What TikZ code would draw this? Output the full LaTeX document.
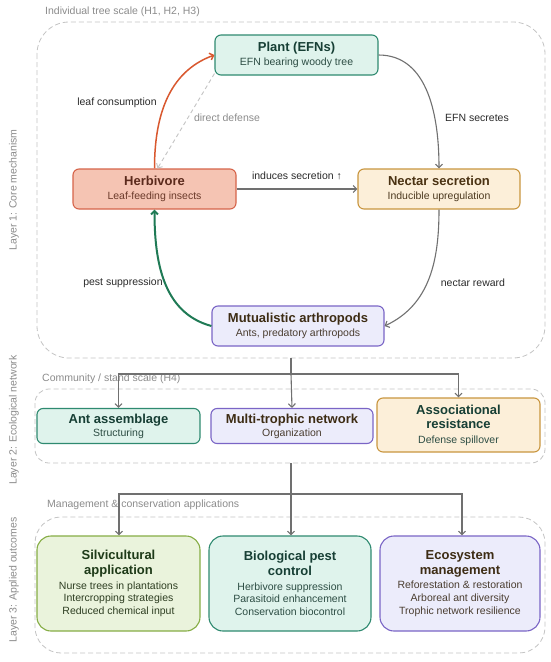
\documentclass[tikz,border=0pt]{standalone}
\usepackage{fontspec}
\setmainfont{Liberation Sans}
\usetikzlibrary{arrows.meta}
\definecolor{tealF}{HTML}{DFF3EC}
\definecolor{tealD}{HTML}{2F8A70}
\definecolor{tealT}{HTML}{173F35}
\definecolor{tealS}{HTML}{2D4D44}
\definecolor{herbF}{HTML}{F5C4B3}
\definecolor{herbD}{HTML}{D6644A}
\definecolor{herbT}{HTML}{5B2A1C}
\definecolor{herbS}{HTML}{6B3A2A}
\definecolor{necF}{HTML}{FCEFD9}
\definecolor{necD}{HTML}{C9963F}
\definecolor{necT}{HTML}{4A3212}
\definecolor{necS}{HTML}{4D3A20}
\definecolor{purF}{HTML}{ECECFB}
\definecolor{purD}{HTML}{7A65C6}
\definecolor{purT}{HTML}{3D2C14}
\definecolor{purS}{HTML}{4A3D30}
\definecolor{grnF}{HTML}{EAF3DC}
\definecolor{grnD}{HTML}{86AD45}
\definecolor{grnT}{HTML}{1E3A18}
\definecolor{grnS}{HTML}{2E3E22}
\definecolor{arrG}{HTML}{707070}
\definecolor{arrO}{HTML}{D9582F}
\definecolor{arrGr}{HTML}{1F7A55}
\definecolor{frameC}{HTML}{C4C4C4}
\definecolor{lblC}{HTML}{8C8C8C}
\definecolor{txtC}{HTML}{2A2A2A}
\newcommand\mytitle[2]{{\color{#1}\fontsize{13}{15}\selectfont\bfseries #2}}
\newcommand\mysub[2]{{\color{#1}\fontsize{10.5}{12.7}\selectfont #2}}
\tikzset{
  box/.style={draw, rounded corners=6pt, line width=1.1pt, inner sep=0pt, align=center,
    font=\fontsize{10.5}{12.7}\selectfont},
  bigbox/.style={box, rounded corners=14pt, minimum height=95pt},
  frame/.style={draw=frameC, dash pattern=on 5pt off 3pt, line width=0.8pt},
  arr/.style={draw=arrG, line width=1.1pt, -{Straight Barb[length=3.5pt,width=7pt]}},
  lbl/.style={font=\fontsize{10.5}{12}\selectfont, text=txtC, inner sep=1pt},
  scl/.style={font=\fontsize{10.5}{12}\selectfont, text=lblC, anchor=west, inner sep=0pt},
  side/.style={font=\fontsize{10.5}{12}\selectfont, text=lblC, rotate=90, inner sep=0pt}
}
\begin{document}
\begin{tikzpicture}[x=1pt,y=-1pt]
\useasboundingbox (0,0) rectangle (550,662);
\fill[white] (0,0) rectangle (550,662);

% layer frames
\draw[frame, rounded corners=32pt] (37,22) rectangle (545,358);
\coordinate (f1s) at (291,358);
\draw[frame, rounded corners=14pt] (35,389) rectangle (545,463);
\coordinate (f2s) at (291,463);
\draw[frame, rounded corners=26pt] (35,517) rectangle (545,653);

% scale labels
\node[scl] (s1) at (45,12) {Individual tree scale (H1, H2, H3)};
\node[scl] (s2) at (42,379) {Community / stand scale (H4)};
\node[scl] (s3) at (47,505) {Management \& conservation applications};

% side labels
\node[side] (l1) at (14,190) {Layer 1: Core mechanism};
\node[side] (l2) at (14,420) {Layer 2: Ecological network};
\node[side] (l3) at (14,580) {Layer 3: Applied outcomes};

% layer 1 nodes
\node[box, fill=tealF, draw=tealD, minimum width=163pt, minimum height=40pt] (plant) at (296.5,55)
  {\mytitle{tealT}{Plant (EFNs)}\\[1.5pt]\mysub{tealS}{EFN bearing woody tree}};
\node[box, fill=herbF, draw=herbD, minimum width=163pt, minimum height=40pt] (herb) at (154.5,189)
  {\mytitle{herbT}{Herbivore}\\[1.5pt]\mysub{herbS}{Leaf-feeding insects}};
\node[box, fill=necF, draw=necD, minimum width=162pt, minimum height=40pt] (nec) at (439,189)
  {\mytitle{necT}{Nectar secretion}\\[1.5pt]\mysub{necS}{Inducible upregulation}};
\node[box, fill=purF, draw=purD, minimum width=172pt, minimum height=40pt] (mut) at (298,326)
  {\mytitle{purT}{Mutualistic arthropods}\\[1.5pt]\mysub{purS}{Ants, predatory arthropods}};

% layer 1 connectors
\draw[arr, draw=arrO, line width=1.5pt] (herb.north) to[out=90, in=200] (plant.west);
\draw[arr, draw=frameC, dash pattern=on 4pt off 3pt, line width=0.9pt] (plant.south west) ++(0,-2) coordinate (pd) (pd) -- ([xshift=3pt]herb.north);
\draw[arr] (plant.east) to[out=0, in=90] (nec.north);
\draw[arr] (herb.east) -- (nec.west);
\draw[arr] (nec.south) to[out=-90, in=25] (mut.east);
\draw[arr, draw=arrGr, line width=2pt] (mut.west) to[out=165, in=-90] (herb.south);

\node[lbl] (t1) at (117,103) {leaf consumption};
\node[lbl, text=lblC] (t2) at (227,118) {direct defense};
\node[lbl] (t3) at (477,118) {EFN secretes};
\node[lbl] (t4) at (297,176) {induces secretion ↑};
\node[lbl] (t5) at (123,283) {pest suppression};
\node[lbl] (t6) at (473,283) {nectar reward};

% layer 2 nodes
\node[box, fill=tealF, draw=tealD, minimum width=163pt, minimum height=35pt] (ant) at (118.5,426)
  {\mytitle{tealT}{Ant assemblage}\\[0.5pt]\mysub{tealS}{Structuring}};
\node[box, fill=purF, draw=purD, minimum width=162pt, minimum height=35pt] (multi) at (292,426)
  {\mytitle{purT}{Multi-trophic network}\\[0.5pt]\mysub{purS}{Organization}};
\node[box, fill=necF, draw=necD, minimum width=163pt, minimum height=54pt] (assoc) at (458.5,425)
  {\mytitle{tealT}{Associational}\\[2pt]\mytitle{tealT}{resistance}\\[1.5pt]\mysub{tealS}{Defense spillover}};

% layer 1 -> 2
\coordinate (j1) at (291,374);
\draw[draw=arrG, line width=1.1pt] (f1s) -- (j1);
\draw[arr] (j1) -| (ant.north);
\draw[arr] (j1) -- (multi.north);
\draw[arr] (j1) -| (assoc.north);

% layer 3 nodes
\node[bigbox, fill=grnF, draw=grnD, minimum width=163pt] (silvi) at (118.5,583.5)
  {\mytitle{grnT}{Silvicultural}\\[2.5pt]\mytitle{grnT}{application}\\[1.5pt]\mysub{grnS}{Nurse trees in plantations}\\\mysub{grnS}{Intercropping strategies}\\\mysub{grnS}{Reduced chemical input}};
\node[bigbox, fill=tealF, draw=tealD, minimum width=162pt] (bio) at (290,583.5)
  {\mytitle{tealT}{Biological pest}\\[2.5pt]\mytitle{tealT}{control}\\[1.5pt]\mysub{tealS}{Herbivore suppression}\\\mysub{tealS}{Parasitoid enhancement}\\\mysub{tealS}{Conservation biocontrol}};
\node[bigbox, fill=purF, draw=purD, minimum width=160pt] (eco) at (460,583.5)
  {\mytitle{purT}{Ecosystem}\\[2.5pt]\mytitle{purT}{management}\\[1.5pt]\mysub{purS}{Reforestation \& restoration}\\\mysub{purS}{Arboreal ant diversity}\\\mysub{purS}{Trophic network resilience}};

% layer 2 -> 3
\coordinate (j2) at (291,494);
\draw[draw=arrG, line width=1.1pt] (f2s) -- (j2);
\draw[arr] (j2) -| ([xshift=0.5pt]silvi.north);
\draw[arr] (j2) -- ([xshift=1pt]bio.north);
\draw[arr] (j2) -| ([xshift=2pt]eco.north);
\end{tikzpicture}
\end{document}
